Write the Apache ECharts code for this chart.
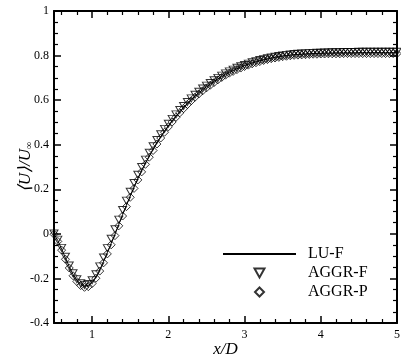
<!DOCTYPE html>
<html>
<head>
<meta charset="utf-8">
<script src="https://cdn.jsdelivr.net/npm/echarts@6/dist/echarts.min.js"></script>
<style>
  html, body { margin: 0; padding: 0; background: #fff; }
  #chart { width: 401px; height: 363px; }
</style>
</head>
<body>
<div id="chart"></div>
<script>
// x/D stations (step 0.05)
const xs = [
  0.5, 0.55, 0.6, 0.65, 0.7, 0.75, 0.8, 0.85, 0.9, 0.95,
  1.0, 1.05, 1.1, 1.15, 1.2, 1.25, 1.3, 1.35, 1.4, 1.45,
  1.5, 1.55, 1.6, 1.65, 1.7, 1.75, 1.8, 1.85, 1.9, 1.95,
  2.0, 2.05, 2.1, 2.15, 2.2, 2.25, 2.3, 2.35, 2.4, 2.45,
  2.5, 2.55, 2.6, 2.65, 2.7, 2.75, 2.8, 2.85, 2.9, 2.95,
  3.0, 3.05, 3.1, 3.15, 3.2, 3.25, 3.3, 3.35, 3.4, 3.45,
  3.5, 3.55, 3.6, 3.65, 3.7, 3.75, 3.8, 3.85, 3.9, 3.95,
  4.0, 4.05, 4.1, 4.15, 4.2, 4.25, 4.3, 4.35, 4.4, 4.45,
  4.5, 4.55, 4.6, 4.65, 4.7, 4.75, 4.8, 4.85, 4.9, 4.95, 5.0
];
const luF = [
  0.000, -0.030, -0.068, -0.108, -0.147, -0.182, -0.208, -0.226, -0.235, -0.232,
  -0.218, -0.194, -0.162, -0.124, -0.084, -0.043, -0.002, 0.042, 0.086, 0.128,
  0.170, 0.210, 0.248, 0.284, 0.318, 0.350, 0.380, 0.409, 0.436, 0.461,
  0.485, 0.507, 0.528, 0.548, 0.567, 0.585, 0.602, 0.618, 0.633, 0.647,
  0.660, 0.672, 0.684, 0.695, 0.706, 0.716, 0.725, 0.733, 0.741, 0.748,
  0.755, 0.761, 0.767, 0.772, 0.777, 0.781, 0.785, 0.789, 0.792, 0.795,
  0.798, 0.800, 0.802, 0.804, 0.805, 0.806, 0.807, 0.808, 0.809, 0.810,
  0.810, 0.811, 0.811, 0.811, 0.812, 0.812, 0.812, 0.812, 0.812, 0.812,
  0.813, 0.813, 0.813, 0.813, 0.813, 0.813, 0.813, 0.813, 0.813, 0.813, 0.813
];
const aggrF = [
  0.002, -0.026, -0.063, -0.103, -0.142, -0.177, -0.204, -0.222, -0.229, -0.225,
  -0.208, -0.181, -0.146, -0.106, -0.064, -0.022, 0.021, 0.064, 0.107, 0.149,
  0.189, 0.228, 0.265, 0.300, 0.333, 0.364, 0.393, 0.421, 0.447, 0.471,
  0.494, 0.516, 0.536, 0.556, 0.574, 0.592, 0.608, 0.624, 0.638, 0.652,
  0.665, 0.677, 0.689, 0.700, 0.710, 0.720, 0.729, 0.737, 0.745, 0.752,
  0.758, 0.764, 0.770, 0.775, 0.780, 0.784, 0.788, 0.792, 0.795, 0.798,
  0.801, 0.803, 0.805, 0.807, 0.808, 0.809, 0.810, 0.811, 0.812, 0.813,
  0.813, 0.814, 0.814, 0.815, 0.815, 0.815, 0.816, 0.816, 0.816, 0.816,
  0.817, 0.817, 0.817, 0.817, 0.817, 0.817, 0.817, 0.817, 0.817, 0.817, 0.817
];
const aggrP = [
  -0.002, -0.034, -0.073, -0.114, -0.153, -0.188, -0.214, -0.232, -0.240, -0.237,
  -0.223, -0.199, -0.167, -0.130, -0.090, -0.049, -0.008, 0.036, 0.080, 0.122,
  0.164, 0.204, 0.242, 0.278, 0.312, 0.344, 0.374, 0.403, 0.430, 0.456,
  0.480, 0.502, 0.523, 0.543, 0.562, 0.580, 0.597, 0.613, 0.628, 0.642,
  0.655, 0.667, 0.679, 0.691, 0.702, 0.712, 0.721, 0.729, 0.737, 0.744,
  0.751, 0.757, 0.763, 0.768, 0.773, 0.778, 0.782, 0.786, 0.789, 0.792,
  0.795, 0.797, 0.799, 0.801, 0.802, 0.803, 0.804, 0.805, 0.806, 0.806,
  0.807, 0.807, 0.808, 0.808, 0.808, 0.808, 0.809, 0.809, 0.809, 0.809,
  0.809, 0.809, 0.809, 0.809, 0.809, 0.809, 0.809, 0.809, 0.809, 0.809, 0.809
];
const xMajorTicks = [1, 2, 3, 4, 5];
const xMinorTicks = [0.6, 0.8, 1.2, 1.4, 1.6, 1.8, 2.2, 2.4, 2.6, 2.8,
  3.2, 3.4, 3.6, 3.8, 4.2, 4.4, 4.6, 4.8];
const seriesNames = ["LU-F", "AGGR-F", "AGGR-P"];

const font = "Liberation Serif";
const pair = (ys) => xs.map((x, i) => [x, ys[i]]);

const frameLine = { show: true, onZero: false, lineStyle: { color: "#000", width: 2 } };
const majorTick = (vals) => ({
  show: true, inside: true, length: 7, customValues: vals,
  lineStyle: { color: "#000", width: 1.5 },
});
const minorTickAxis = (pos) => ({
  type: "value", position: pos, min: 0.5, max: 5,
  axisLine: { show: false, onZero: false },
  axisTick: { show: true, inside: true, length: 4, customValues: xMinorTicks, lineStyle: { color: "#000", width: 1.2 } },
  axisLabel: { show: false },
  splitLine: { show: false },
});

const option = {
  animation: false,
  grid: { left: 54, right: 4, top: 11, bottom: 40, outerBoundsMode: "none" },
  legend: {
    orient: "vertical",
    left: 222,
    top: 246,
    padding: 0,
    itemWidth: 73,
    itemHeight: 9,
    itemGap: 3,
    data: [
      { name: seriesNames[0], itemStyle: { color: "rgba(0,0,0,0)", borderColor: "rgba(0,0,0,0)" } },
      seriesNames[1],
      seriesNames[2],
    ],
    textStyle: { fontFamily: font, fontSize: 16, color: "#000", lineHeight: 16, padding: [0, 0, 0, 7] },
  },
  xAxis: [
    {
      type: "value", position: "bottom", min: 0.5, max: 5,
      axisLine: frameLine,
      axisTick: majorTick(xMajorTicks),
      axisLabel: { customValues: xMajorTicks, fontFamily: font, fontSize: 12, color: "#000", margin: 6 },
      splitLine: { show: false },
      name: "x/D",
      nameLocation: "middle",
      nameGap: 18,
      nameMoveOverlap: false,
      nameTextStyle: { fontFamily: font, fontSize: 17, fontStyle: "italic", color: "#000" },
    },
    minorTickAxis("bottom"),
    {
      type: "value", position: "top", min: 0.5, max: 5,
      axisLine: frameLine,
      axisTick: majorTick(xMajorTicks),
      axisLabel: { show: false },
      splitLine: { show: false },
    },
    minorTickAxis("top"),
  ],
  yAxis: [
    {
      type: "value", position: "left", min: -0.4, max: 1, interval: 0.2,
      axisLine: frameLine,
      axisTick: { inside: true, length: 7, lineStyle: { color: "#000", width: 1.5 } },
      minorTick: { show: true, splitNumber: 4, length: 4, lineStyle: { color: "#000", width: 1.2 } },
      axisLabel: { fontFamily: font, fontSize: 12, color: "#000", margin: 5 },
      splitLine: { show: false },
      name: "{u|⟨U⟩/U}{s|∞}",
      nameLocation: "middle",
      nameGap: 20,
      nameMoveOverlap: false,
      nameTextStyle: {
        fontFamily: font, fontSize: 17, color: "#000",
        rich: {
          u: { fontFamily: font, fontSize: 17, fontStyle: "italic", color: "#000" },
          s: { fontFamily: font, fontSize: 10, color: "#000", verticalAlign: "bottom", padding: [6, 0, 0, 0] },
        },
      },
    },
    {
      type: "value", position: "right", min: -0.4, max: 1, interval: 0.2,
      axisLine: frameLine,
      axisTick: { inside: true, length: 7, lineStyle: { color: "#000", width: 1.5 } },
      minorTick: { show: true, splitNumber: 4, length: 4, lineStyle: { color: "#000", width: 1.2 } },
      axisLabel: { show: false },
      splitLine: { show: false },
    },
  ],
  series: [
    {
      name: seriesNames[0],
      type: "line",
      symbol: "none",
      lineStyle: { color: "#000", width: 1 },
      itemStyle: { color: "#000" },
      data: pair(luF),
    },
    {
      name: seriesNames[1],
      type: "scatter",
      symbol: "path://M0,0L10,0L5,9Z",
      symbolSize: [8, 7],
      itemStyle: { color: "rgba(0,0,0,0)", borderColor: "#000", borderWidth: 1 },
      data: pair(aggrF),
    },
    {
      name: seriesNames[2],
      type: "scatter",
      symbol: "path://M5,0L10,5L5,10L0,5Z",
      symbolSize: [8, 8],
      itemStyle: { color: "rgba(0,0,0,0)", borderColor: "#000", borderWidth: 1 },
      data: pair(aggrP),
    },
  ],
};

const chart = echarts.init(document.getElementById("chart"));
chart.setOption(option);
</script>
</body>
</html>
